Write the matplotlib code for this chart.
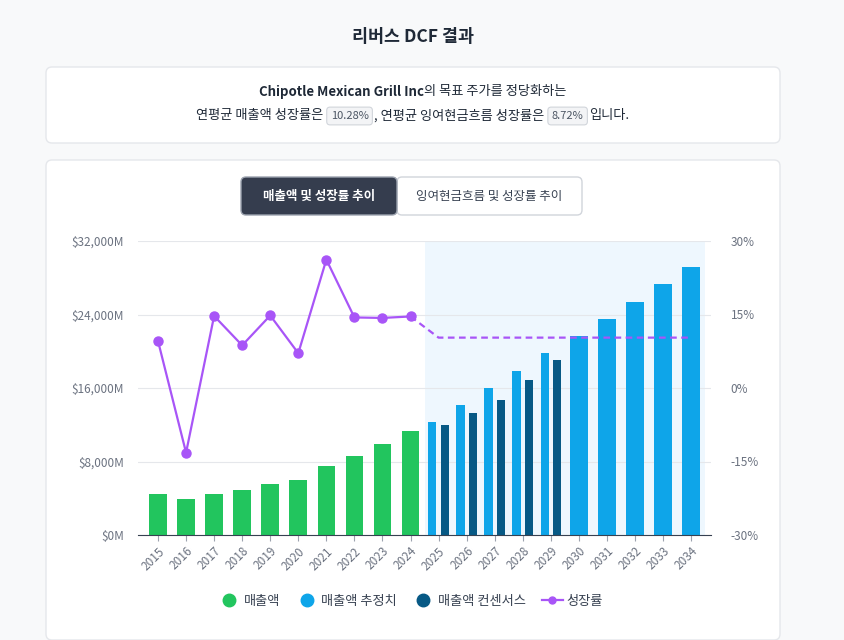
"""
Reverse DCF result chart
"""
import matplotlib
matplotlib.use('Agg')
import matplotlib.pyplot as plt
from matplotlib.patches import FancyBboxPatch
from matplotlib.lines import Line2D
import numpy as np

plt.rcParams['font.family'] = ['Noto Sans CJK KR', 'DejaVu Sans']

# data
years = [str(y) for y in range(2015, 2035)]
revenue = [4501, 3904, 4476, 4865, 5586, 5985, 7547, 8635, 9872, 11314]           # 2015-2024
revenue_est = [12270, 14150, 16000, 17850, 19810, 21660, 23510, 25400, 27360, 29170]  # 2025-2034
revenue_cons = [11970, 13280, 14690, 16870, 19050]                                 # 2025-2029
growth = [9.6, -13.2, 14.7, 8.7, 14.8, 7.1, 26.2, 14.4, 14.3, 14.6]                # 2015-2024
growth_proj = [10.28, 10.28, 10.28, 10.28, 10.28, 10.28, 10.28, 10.28, 10.28, 10.28]  # 2025-2034
left_ticks = [0, 8000, 16000, 24000, 32000]
left_labels = ['$0M', '$8,000M', '$16,000M', '$24,000M', '$32,000M']
right_ticks = [-30, -15, 0, 15, 30]
right_labels = ['-30%', '-15%', '0%', '15%', '30%']

GREEN = '#22c55e'
BLUE = '#0ea5e9'
DARK = '#075985'
PURPLE = '#a855f7'
GRAY = '#6b7280'

W, H = 844, 640
fig = plt.figure(figsize=(W / 100, H / 100), dpi=100)
fig.patch.set_facecolor('#f8f9fa')

# background layer in pixel coords
bg = fig.add_axes([0, 0, 1, 1])
bg.set_xlim(0, W)
bg.set_ylim(H, 0)
bg.axis('off')
bg.set_zorder(0)

def card(x0, y0, x1, y1, fc='white', ec='#e5e7eb', r=6, lw=1):
    p = FancyBboxPatch((x0, y0), x1 - x0, y1 - y0,
                       boxstyle='round,pad=0,rounding_size=%d' % r,
                       fc=fc, ec=ec, lw=lw)
    bg.add_patch(p)

card(46, 67, 780, 143)
card(46, 160, 780, 640)

bg.text(413, 37, '리버스 DCF 결과', ha='center', va='center',
        fontsize=12.5, fontweight='bold', color='#1f2937')

renderer = fig.canvas.get_renderer()

def text_line(y, pieces, cx=413):
    objs = []
    x = 0
    for s, kw, gap_before, gap_after in pieces:
        x += gap_before
        t = bg.text(x, y, s, ha='left', va='center', **kw)
        w = t.get_window_extent(renderer).width
        objs.append((t, x))
        x += w + gap_after
    shift = cx - x / 2
    for t, x0 in objs:
        t.set_x(x0 + shift)

base = dict(fontsize=9.5, color='#1f2937')
badge = dict(fontsize=8, color='#4b5563',
             bbox=dict(boxstyle='round,pad=0.35,rounding_size=0.3', fc='#f3f4f6', ec='#d1d5db', lw=0.8))

text_line(92, [
    ('Chipotle Mexican Grill Inc', dict(base, fontweight='bold'), 0, 0),
    ('의 목표 주가를 정당화하는', base, 0, 0),
])
text_line(116, [
    ('연평균 매출액 성장률은', base, 0, 0),
    ('10.28%', badge, 7, 6),
    (', 연평균 잉여현금흐름 성장률은', base, 0, 0),
    ('8.72%', badge, 7, 6),
    ('입니다.', base, 0, 0),
])

# toggle buttons
card(397, 177, 582, 215, fc='white', ec='#d1d5db', r=5)
card(241, 177, 397, 215, fc='#353d4e', ec='#9ca3af', r=5)
bg.text(319, 196, '매출액 및 성장률 추이', ha='center', va='center',
        fontsize=9, fontweight='bold', color='white')
bg.text(489.5, 196, '잉여현금흐름 및 성장률 추이', ha='center', va='center',
        fontsize=9, color='#374151')

# chart
x = np.arange(len(years))
ax = fig.add_axes([138 / W, 1 - 535 / H, (711 - 138) / W, 294 / H])
ax.set_zorder(1)
ax.set_facecolor('none')

ax.axvspan(9.5, 19.5, color='#eef7fe', zorder=0, lw=0)

ax.bar(x[:10], revenue, width=0.63, color=GREEN, zorder=2)
ax.bar(x[10:15] - 0.22, revenue_est[:5], width=0.29, color=BLUE, zorder=2)
ax.bar(x[10:15] + 0.22, revenue_cons, width=0.29, color=DARK, zorder=2)
ax.bar(x[15:], revenue_est[5:], width=0.63, color=BLUE, zorder=2)

ax.set_xlim(-0.713, 19.71)
ax.set_ylim(0, 32000)
ax.set_yticks(left_ticks)
ax.set_yticklabels(left_labels)
ax.grid(axis='y', color='#e5e7eb', lw=0.8, zorder=1)
ax.set_axisbelow(True)
ax.set_xticks(x)
ax.set_xticklabels(years, rotation=45, ha='right', rotation_mode='anchor')
ax.tick_params(axis='x', colors='#9ca3af', labelcolor=GRAY, labelsize=8.5, length=4, pad=3)
ax.tick_params(axis='y', length=0, labelcolor=GRAY, labelsize=8.5, pad=10)
for s in ['top', 'right', 'left']:
    ax.spines[s].set_visible(False)
ax.spines['bottom'].set_color('#374151')

ax2 = ax.twinx()
ax2.plot(x[:10], growth, color=PURPLE, lw=1.6, marker='o', ms=6.5, zorder=3)
ax2.plot(x[9:], [growth[-1]] + growth_proj, color=PURPLE, lw=1.6, ls=(0, (3, 2)), zorder=3)
ax2.set_ylim(-30, 30)
ax2.set_yticks(right_ticks)
ax2.set_yticklabels(right_labels)
ax2.tick_params(axis='y', length=0, labelcolor=GRAY, labelsize=8.5, pad=14)
for s in ['top', 'right', 'left', 'bottom']:
    ax2.spines[s].set_visible(False)

handles = [
    Line2D([], [], ls='none', marker='o', ms=9, color=GREEN),
    Line2D([], [], ls='none', marker='o', ms=9, color=BLUE),
    Line2D([], [], ls='none', marker='o', ms=9, color=DARK),
    Line2D([], [], color=PURPLE, lw=1.6, marker='o', ms=5),
]
fig.legend(handles, ['매출액', '매출액 추정치', '매출액 컨센서스', '성장률'],
           loc='center', bbox_to_anchor=(411 / W, 1 - 601 / H), ncol=4,
           frameon=False, fontsize=9.5, labelcolor='#374151',
           columnspacing=1.2, handletextpad=0.3, handlelength=1.6)

fig.savefig('out.png', dpi=100, facecolor=fig.get_facecolor())
